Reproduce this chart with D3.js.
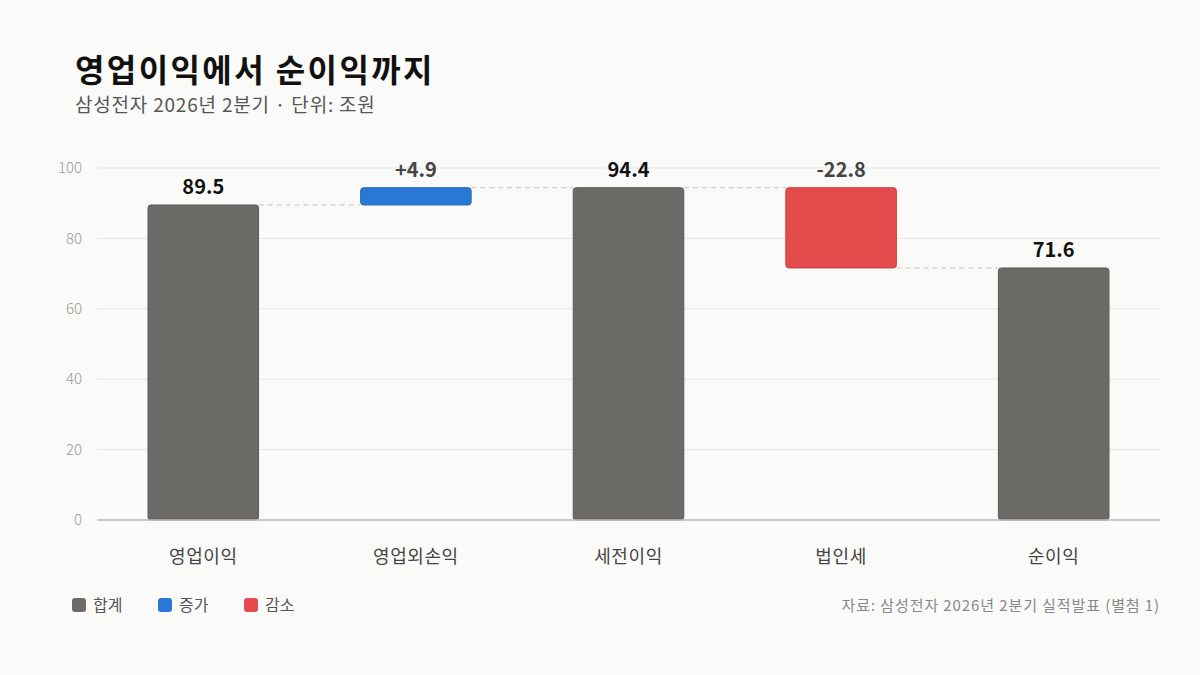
<!DOCTYPE html>
<html>
<head>
<meta charset="utf-8">
<script src="https://cdn.jsdelivr.net/npm/d3@7"></script>
<style>
  body { margin: 0; background: #fafaf8; font-family: "Noto Sans CJK KR", "Noto Sans", sans-serif; }
  svg text { font-family: "Noto Sans CJK KR", "Noto Sans", sans-serif; }
</style>
</head>
<body>
<div id="chart"></div>
<script>
// data
var categories = ["영업이익", "영업외손익", "세전이익", "법인세", "순이익"];
var values = [89.5, 4.9, 94.4, -22.8, 71.6];
var kinds = ["total", "up", "total", "down", "total"];
var yTicks = [0, 20, 40, 60, 80, 100];
var legendLabels = ["합계", "증가", "감소"];

var width = 1200, height = 675;
var margin = {top: 168, right: 40, bottom: 155, left: 97};
var innerW = width - margin.left - margin.right,
    innerH = height - margin.top - margin.bottom;

var color = {total: "#6b6a66", up: "#2a78d6", down: "#e34a4b"};
var stroke = {total: "#5a5955", up: "#2468c0", down: "#d03c3e"};

var svg = d3.select("#chart").append("svg")
  .attr("width", width).attr("height", height)
  .style("background", "#fafaf8");

// title
svg.append("text").attr("x", 75).attr("y", 82)
  .attr("font-size", 32).attr("font-weight", 700).attr("fill", "#111")
  .attr("letter-spacing", 2.4)
  .text("영업이익에서 순이익까지");
svg.append("text").attr("x", 75).attr("y", 112)
  .attr("font-size", 19).attr("fill", "#555")
  .attr("letter-spacing", 0.8)
  .text("삼성전자 2026년 2분기 · 단위: 조원");

var g = svg.append("g").attr("transform", "translate(" + margin.left + "," + margin.top + ")");

var x = d3.scaleBand().domain(categories).range([0, innerW]).paddingInner(0.48).paddingOuter(0.24);
var y = d3.scaleLinear().domain([0, 100]).range([innerH, 0]);

// running totals for waterfall
var steps = [];
var run = 0;
categories.forEach(function(c, i) {
  var start, end;
  if (kinds[i] == "total") { start = 0; end = values[i]; run = values[i]; }
  else { start = run; end = run + values[i]; run = end; }
  steps.push({cat: c, v: values[i], kind: kinds[i], start: start, end: end});
});

// gridlines
g.selectAll(".grid").data(yTicks.filter(function(d){ return d > 0; }))
  .enter().append("line")
  .attr("x1", 0).attr("x2", innerW)
  .attr("y1", function(d){ return y(d); }).attr("y2", function(d){ return y(d); })
  .attr("stroke", "#e6e6e4").attr("stroke-width", 1);

// y axis labels
g.selectAll(".ytick").data(yTicks).enter().append("text")
  .attr("x", -15).attr("y", function(d){ return y(d); })
  .attr("dy", "0.35em").attr("text-anchor", "end")
  .attr("font-size", 15).attr("font-weight", 300).attr("fill", "#999")
  .text(function(d){ return d; });

// connectors
for (var i = 0; i < steps.length - 1; i++) {
  var lvl = steps[i].end;
  g.append("line")
    .attr("x1", x(steps[i].cat) + x.bandwidth())
    .attr("x2", x(steps[i + 1].cat))
    .attr("y1", y(lvl)).attr("y2", y(lvl))
    .attr("stroke", "#cfcfcc").attr("stroke-width", 1.2)
    .attr("stroke-dasharray", "5,4");
}

// bars
g.selectAll(".bar").data(steps).enter().append("rect")
  .attr("x", function(d){ return x(d.cat); })
  .attr("width", x.bandwidth())
  .attr("y", function(d){ return y(Math.max(d.start, d.end)); })
  .attr("height", function(d){ return Math.abs(y(d.start) - y(d.end)); })
  .attr("rx", 3).attr("ry", 3)
  .attr("fill", function(d){ return color[d.kind]; })
  .attr("stroke", function(d){ return stroke[d.kind]; })
  .attr("stroke-width", 1);

// baseline
g.append("line").attr("x1", 0).attr("x2", innerW)
  .attr("y1", y(0)).attr("y2", y(0))
  .attr("stroke", "#bdbab4").attr("stroke-width", 1.5);

// value labels
g.selectAll(".val").data(steps).enter().append("text")
  .attr("x", function(d){ return x(d.cat) + x.bandwidth() / 2; })
  .attr("y", function(d){ return y(Math.max(d.start, d.end)) - 11; })
  .attr("text-anchor", "middle")
  .attr("font-size", 20)
  .attr("font-weight", function(d){ return d.kind == "total" ? 700 : 600; })
  .attr("fill", function(d){ return d.kind == "total" ? "#111" : "#444"; })
  .text(function(d){
    if (d.kind == "total") return d.v.toFixed(1);
    return (d.v > 0 ? "+" : "") + d.v.toFixed(1);
  });

// category labels
g.selectAll(".cat").data(categories).enter().append("text")
  .attr("x", function(d){ return x(d) + x.bandwidth() / 2; })
  .attr("y", innerH + 43)
  .attr("text-anchor", "middle")
  .attr("font-size", 18).attr("fill", "#444")
  .attr("letter-spacing", 0.6)
  .text(function(d){ return d; });

// legend
var legendKinds = ["total", "up", "down"];
var lg = svg.append("g").attr("transform", "translate(72,598)");
legendKinds.forEach(function(k, i) {
  var item = lg.append("g").attr("transform", "translate(" + (i * 86) + ",0)");
  item.append("rect").attr("width", 14).attr("height", 14).attr("rx", 3)
    .attr("fill", color[k]);
  item.append("text").attr("x", 21).attr("y", 7).attr("dy", "0.35em")
    .attr("font-size", 16).attr("fill", "#555")
    .text(legendLabels[i]);
});

// source
svg.append("text").attr("x", 1160).attr("y", 611)
  .attr("text-anchor", "end").attr("font-size", 15).attr("fill", "#888")
  .attr("letter-spacing", 0.9)
  .text("자료: 삼성전자 2026년 2분기 실적발표 (별첨 1)");
</script>
</body>
</html>
